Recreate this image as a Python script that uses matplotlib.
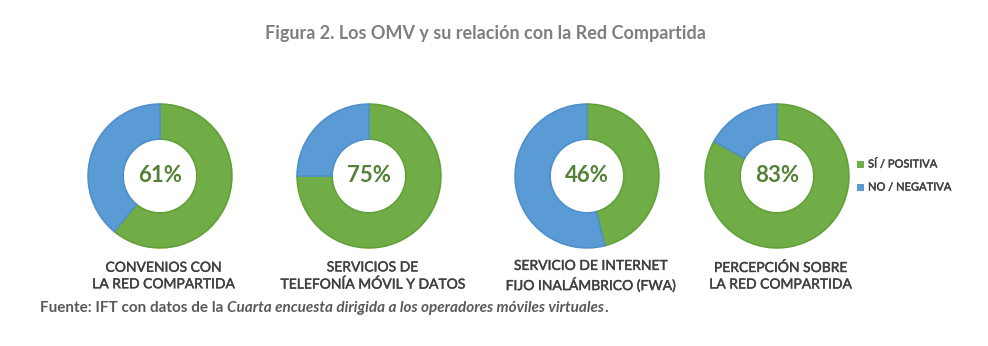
import matplotlib
matplotlib.use("Agg")
import matplotlib.pyplot as plt
import matplotlib.patheffects as pe

W, H = 988, 346
DPI = 100

title = "Figura 2. Los OMV y su relación con la Red Compartida"
categories = ["CONVENIOS CON\nLA RED COMPARTIDA",
              "SERVICIOS DE\nTELEFONÍA MÓVIL Y DATOS",
              "SERVICIO DE INTERNET\nFIJO INALÁMBRICO (FWA)",
              "PERCEPCIÓN SOBRE\nLA RED COMPARTIDA"]
positive = [61, 75, 46, 83]
negative = [39, 25, 54, 17]
series_names = ["SÍ / POSITIVA", "NO / NEGATIVA"]
source_parts = [("Fuente: IFT con datos de la ", "normal"),
                ("Cuarta encuesta dirigida a los operadores móviles virtuales", "italic"),
                (".", "normal")]

GREEN = "#70AD47"
BLUE = "#5B9BD5"
GREEN_EDGE = "#62A03A"
BLUE_EDGE = "#4F8FCB"
PCT_COLOR = "#538135"
LABEL_COLOR = "#404040"
FONT = ["Lato", "DejaVu Sans"]
thick = [pe.withStroke(linewidth=0.3, foreground=LABEL_COLOR)]

fig = plt.figure(figsize=(W / DPI, H / DPI), dpi=DPI)
fig.patch.set_facecolor("white")

def fx(px):
    return px / W

def fy(py):
    return 1 - py / H

centers_x = [160, 369, 587, 777]
cy = 176
R = 73

for i, (cx, p, n) in enumerate(zip(centers_x, positive, negative)):
    ax = fig.add_axes([fx(cx - R), fy(cy + R), 2 * R / W, 2 * R / H])
    wedges, _ = ax.pie([p, n], colors=[GREEN, BLUE], startangle=90, counterclock=False,
                       radius=0.985,
                       wedgeprops=dict(width=0.48, edgecolor="none"))
    wedges[0].set_edgecolor(GREEN_EDGE)
    wedges[1].set_edgecolor(BLUE_EDGE)
    for w in wedges:
        w.set_linewidth(1.2)
    ax.set_xlim(-1, 1)
    ax.set_ylim(-1, 1)
    ax.set_aspect("equal")
    ax.axis("off")
    ax.text(0, 0, f"{p}%", ha="center", va="center", fontsize=16, fontweight="bold",
            color=PCT_COLOR, family=FONT)
    fig.text(fx(cx + 3), fy(276), categories[i], ha="center", va="center", fontsize=10,
             color=LABEL_COLOR, family=FONT, linespacing=1.45, path_effects=thick)

fig.text(fx(485), fy(33), title, ha="center", va="center", fontsize=13, fontweight="bold",
         color="#7F7F7F", family=FONT)

# legend
for j, (name, col) in enumerate(zip(series_names, [GREEN, BLUE])):
    y = 164 + j * 23
    fig.patches.append(plt.Rectangle((fx(857), fy(y + 3.5)), 7 / W, 7 / H,
                                     transform=fig.transFigure, facecolor=col,
                                     edgecolor="none"))
    fig.text(fx(868), fy(y), name, ha="left", va="center", fontsize=8,
             color=LABEL_COLOR, family=FONT, path_effects=thick)

# source with mixed styles
fig.canvas.draw()
renderer = fig.canvas.get_renderer()
x = fx(40)
for txt, style in source_parts:
    t = fig.text(x, fy(308), txt, ha="left", va="center", fontsize=11, fontweight="bold",
                 style=style, color="#595959", family=FONT)
    bb = t.get_window_extent(renderer=renderer)
    x += bb.width / W

fig.savefig("out.png", dpi=DPI, facecolor="white")
